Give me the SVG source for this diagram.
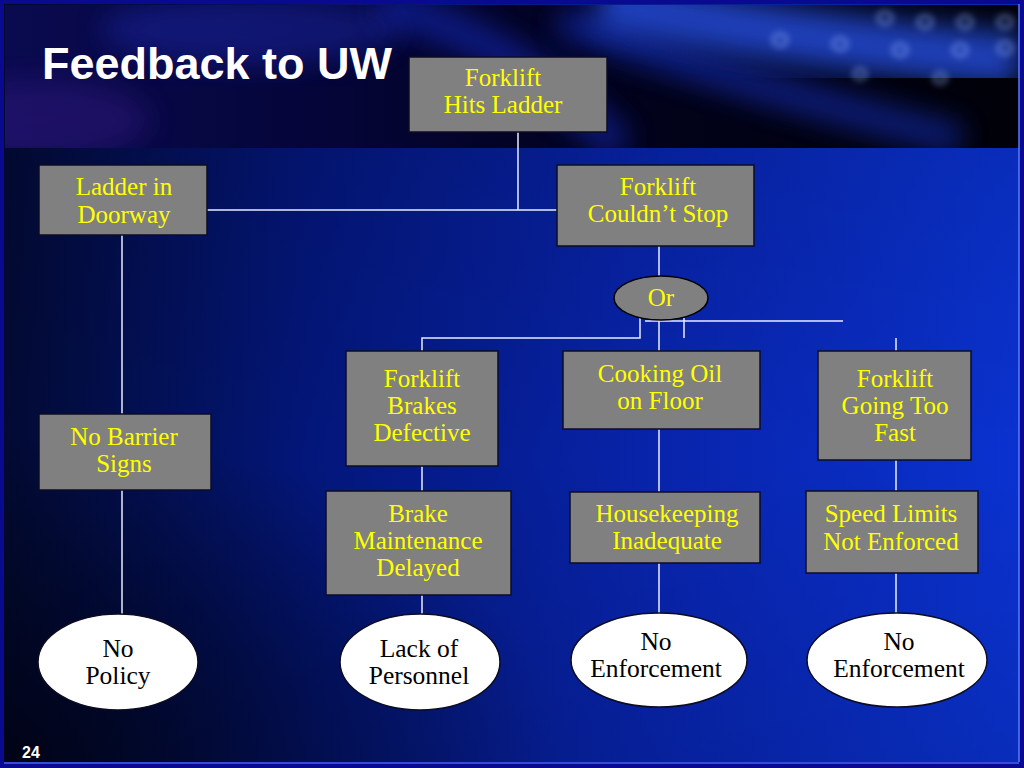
<svg xmlns="http://www.w3.org/2000/svg" width="1024" height="768" viewBox="0 0 1024 768">
<defs>
  <style>
    .box { fill: #808080; stroke: #0c0c24; stroke-width: 1.5; }
    .ell { fill: #ffffff; stroke: #0c0c24; stroke-width: 1.5; }
    .or { fill: #808080; stroke: #000000; stroke-width: 1.5; }
    .yt { font-family: 'Liberation Serif', 'DejaVu Serif', serif; font-size: 25px; fill: #ffff00; text-anchor: middle; }
    .bt { font-family: 'Liberation Serif', 'DejaVu Serif', serif; font-size: 25.5px; fill: #000000; text-anchor: middle; }
    .conn line, .conn polyline { stroke: #e8ecff; stroke-width: 1.5; fill: none; }
  </style>
  <linearGradient id="bgH" x1="0" y1="0" x2="1" y2="0">
    <stop offset="0" stop-color="#020a34"/>
    <stop offset="0.3" stop-color="#03167a"/>
    <stop offset="0.65" stop-color="#0824ac"/>
    <stop offset="1" stop-color="#0a32d0"/>
  </linearGradient>
  <linearGradient id="bgV" x1="0" y1="0" x2="0" y2="1">
    <stop offset="0" stop-color="#000000" stop-opacity="0.15"/>
    <stop offset="0.6" stop-color="#000000" stop-opacity="0"/>
    <stop offset="1" stop-color="#000000" stop-opacity="0.1"/>
  </linearGradient>
  <radialGradient id="blHL" cx="0.0" cy="1.0" r="0.55">
    <stop offset="0" stop-color="#00020f" stop-opacity="0.75"/>
    <stop offset="1" stop-color="#00020f" stop-opacity="0"/>
  </radialGradient>
  <linearGradient id="banner" x1="0" y1="0" x2="1" y2="0">
    <stop offset="0" stop-color="#0a0a50"/>
    <stop offset="0.3" stop-color="#05053a"/>
    <stop offset="0.6" stop-color="#02021c"/>
    <stop offset="1" stop-color="#010108"/>
  </linearGradient>
  <filter id="blur" x="-30%" y="-30%" width="160%" height="160%">
    <feGaussianBlur stdDeviation="14"/>
  </filter>
  <filter id="blur2" x="-30%" y="-30%" width="160%" height="160%">
    <feGaussianBlur stdDeviation="3"/>
  </filter>
  <clipPath id="bannerClip"><rect x="5" y="5" width="1014" height="143"/></clipPath>
</defs>

<!-- background -->
<rect x="0" y="0" width="1024" height="768" fill="#0a0a90"/>
<rect x="4" y="4" width="1015" height="758" fill="url(#bgH)"/>
<rect x="4" y="4" width="1015" height="758" fill="url(#bgV)"/>
<rect x="4" y="148" width="1015" height="614" fill="url(#blHL)"/>

<!-- top banner -->
<g clip-path="url(#bannerClip)">
  <rect x="5" y="5" width="1014" height="143" fill="url(#banner)"/>
  <ellipse cx="40" cy="120" rx="110" ry="40" fill="#3a1a8a" opacity="0.4" filter="url(#blur)"/>
  <ellipse cx="250" cy="30" rx="150" ry="35" fill="#1a2ab0" opacity="0.45" filter="url(#blur)"/>
  <path d="M380 5 Q520 40 620 150" stroke="#1a3aff" stroke-width="35" fill="none" opacity="0.4" filter="url(#blur)"/>
  <path d="M560 20 Q720 80 960 140" stroke="#1a40ff" stroke-width="30" fill="none" opacity="0.45" filter="url(#blur)"/>
  <path d="M600 0 Q780 40 1019 60" stroke="#2a5aff" stroke-width="55" fill="none" opacity="0.7" filter="url(#blur)"/>
  <g fill="none" stroke="#9ab8ff" stroke-width="4" opacity="0.45" filter="url(#blur2)">
    <ellipse cx="885" cy="18" rx="7" ry="6"/>
    <ellipse cx="925" cy="22" rx="7" ry="6"/>
    <ellipse cx="965" cy="22" rx="7" ry="6"/>
    <ellipse cx="1005" cy="22" rx="7" ry="6"/>
    <ellipse cx="780" cy="40" rx="7" ry="6"/>
    <ellipse cx="840" cy="44" rx="7" ry="6"/>
    <ellipse cx="900" cy="50" rx="7" ry="6"/>
    <ellipse cx="960" cy="50" rx="7" ry="6"/>
    <ellipse cx="1005" cy="48" rx="7" ry="6"/>
    <ellipse cx="860" cy="74" rx="6" ry="5"/>
    <ellipse cx="940" cy="78" rx="6" ry="5"/>
  </g>
</g>

<!-- page border highlight -->
<line x1="1019" y1="4" x2="1019" y2="762" stroke="#5a7aff" stroke-width="1.5"/>
<line x1="4" y1="763" x2="1019" y2="763" stroke="#3a4ad8" stroke-width="2"/>

<!-- title -->
<text x="42" y="79" font-family="'Liberation Sans', Arial, sans-serif" font-weight="bold" font-size="45" fill="#ffffff">Feedback to UW</text>
<text x="22" y="758" font-family="'Liberation Sans', Arial, sans-serif" font-weight="bold" font-size="16" fill="#ffffff">24</text>

<!-- connectors -->
<g class="conn" id="connectors">
  <line x1="518" y1="132" x2="518" y2="210"/>
  <line x1="207" y1="210" x2="557" y2="210"/>
  <line x1="122" y1="235" x2="122" y2="414"/>
  <line x1="122" y1="490" x2="122" y2="614"/>
  <line x1="659" y1="246" x2="659" y2="276"/>
  <line x1="659" y1="320" x2="659" y2="351"/>
  <polyline points="640,318 640,338 422,338 422,351"/>
  <line x1="684" y1="318" x2="684" y2="338"/>
  <line x1="645" y1="321" x2="843" y2="321"/>
  <line x1="896" y1="338" x2="896" y2="351"/>
  <line x1="422" y1="466" x2="422" y2="491"/>
  <line x1="422" y1="595" x2="422" y2="614"/>
  <line x1="659" y1="429" x2="659" y2="492"/>
  <line x1="659" y1="563" x2="659" y2="613"/>
  <line x1="896" y1="460" x2="896" y2="491"/>
  <line x1="896" y1="573" x2="896" y2="613"/>
</g>

<!-- nodes -->
<g id="hits-ladder">
  <rect class="box" x="409" y="57" width="198" height="75"/>
  <text class="yt" x="503" y="86">Forklift</text>
  <text class="yt" x="503" y="113">Hits Ladder</text>
</g>
<g id="ladder-doorway">
  <rect class="box" x="39" y="165" width="168" height="70"/>
  <text class="yt" x="124" y="195">Ladder in</text>
  <text class="yt" x="124" y="223">Doorway</text>
</g>
<g id="couldnt-stop">
  <rect class="box" x="557" y="165" width="197" height="81"/>
  <text class="yt" x="658" y="195">Forklift</text>
  <text class="yt" x="658" y="222">Couldn’t Stop</text>
</g>
<g id="or">
  <ellipse class="or" cx="661" cy="298" rx="47" ry="22"/>
  <text class="yt" x="661" y="306">Or</text>
</g>
<g id="brakes-defective">
  <rect class="box" x="346" y="351" width="152" height="115"/>
  <text class="yt" x="422" y="387">Forklift</text>
  <text class="yt" x="422" y="414">Brakes</text>
  <text class="yt" x="422" y="441">Defective</text>
</g>
<g id="cooking-oil">
  <rect class="box" x="563" y="351" width="197" height="78"/>
  <text class="yt" x="660" y="382">Cooking Oil</text>
  <text class="yt" x="660" y="409">on Floor</text>
</g>
<g id="going-too-fast">
  <rect class="box" x="818" y="351" width="153" height="109"/>
  <text class="yt" x="895" y="387">Forklift</text>
  <text class="yt" x="895" y="414">Going Too</text>
  <text class="yt" x="895" y="441">Fast</text>
</g>
<g id="no-barrier">
  <rect class="box" x="39" y="414" width="172" height="76"/>
  <text class="yt" x="124" y="445">No Barrier</text>
  <text class="yt" x="124" y="472">Signs</text>
</g>
<g id="brake-maintenance">
  <rect class="box" x="326" y="491" width="185" height="104"/>
  <text class="yt" x="418" y="522">Brake</text>
  <text class="yt" x="418" y="549">Maintenance</text>
  <text class="yt" x="418" y="576">Delayed</text>
</g>
<g id="housekeeping">
  <rect class="box" x="570" y="492" width="190" height="71"/>
  <text class="yt" x="667" y="522">Housekeeping</text>
  <text class="yt" x="667" y="549">Inadequate</text>
</g>
<g id="speed-limits">
  <rect class="box" x="806" y="491" width="172" height="82"/>
  <text class="yt" x="891" y="522">Speed Limits</text>
  <text class="yt" x="891" y="550">Not Enforced</text>
</g>
<g id="no-policy">
  <ellipse class="ell" cx="118" cy="662" rx="80" ry="48"/>
  <text class="bt" x="118" y="657">No</text>
  <text class="bt" x="118" y="684">Policy</text>
</g>
<g id="lack-personnel">
  <ellipse class="ell" cx="420" cy="662" rx="80" ry="48"/>
  <text class="bt" x="419" y="657">Lack of</text>
  <text class="bt" x="419" y="684">Personnel</text>
</g>
<g id="no-enforcement-1">
  <ellipse class="ell" cx="659" cy="660" rx="88" ry="47"/>
  <text class="bt" x="656" y="650">No</text>
  <text class="bt" x="656" y="677">Enforcement</text>
</g>
<g id="no-enforcement-2">
  <ellipse class="ell" cx="897" cy="660" rx="90" ry="47"/>
  <text class="bt" x="899" y="650">No</text>
  <text class="bt" x="899" y="677">Enforcement</text>
</g>
</svg>
